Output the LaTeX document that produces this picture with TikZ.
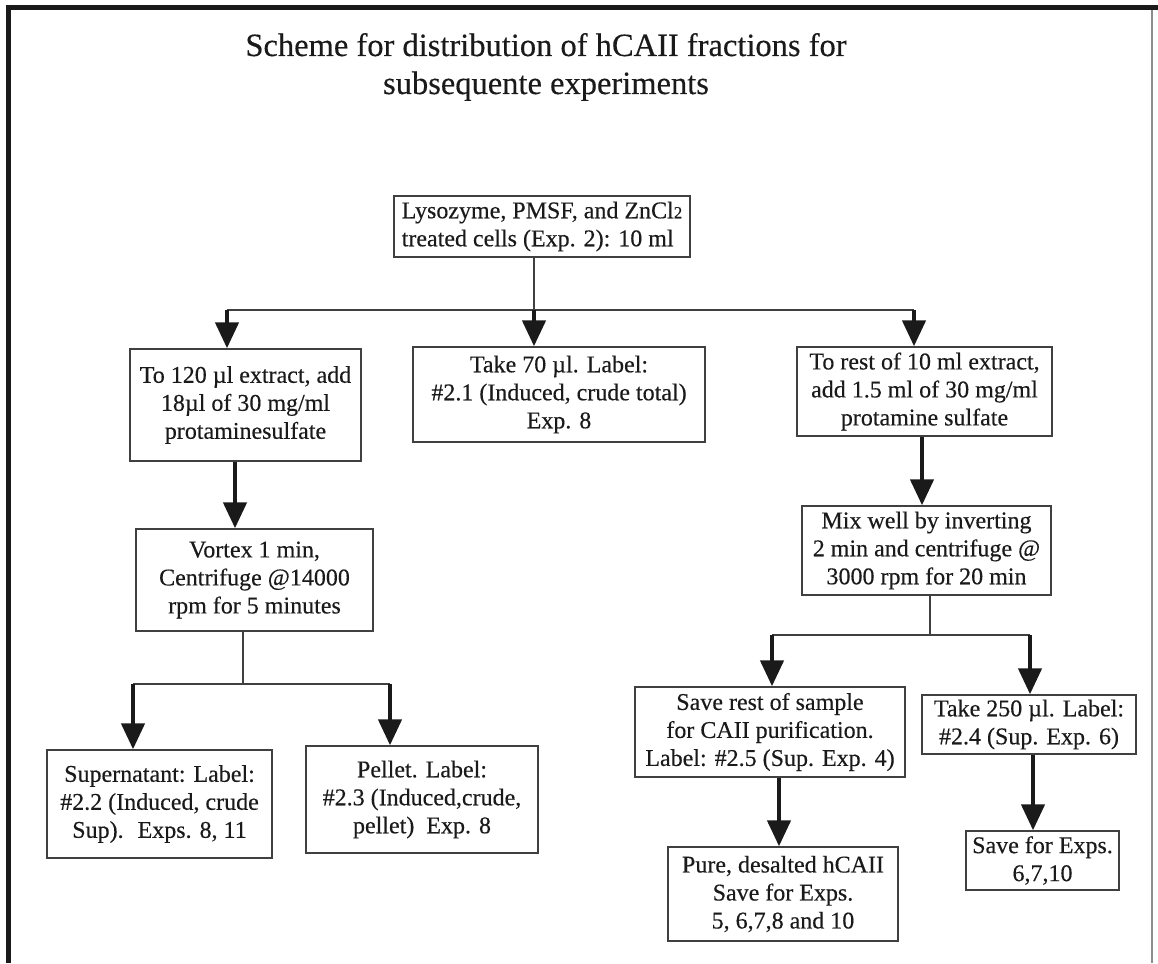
\documentclass[tikz,border=0pt]{standalone}
\usepackage{fontspec}
\setmainfont{Liberation Serif}
\newfontfamily\gfont{Liberation Serif}[FakeBold=0.35]
\usetikzlibrary{arrows.meta}
\definecolor{ink}{HTML}{1A1A1A}
\definecolor{boxc}{HTML}{404040}
\tikzset{
  box/.style={draw=boxc, line width=1.4pt, inner sep=0pt, align=center,
              font=\gfont\fontsize{24}{28}\selectfont, text=ink},
  thinline/.style={draw=boxc, line width=1.3pt},
  arr/.style={draw=ink, line width=4.5pt, -{Triangle[length=26pt,width=23pt]}},
  ttl/.style={font=\gfont\fontsize{32.5}{38}\selectfont, text=ink, anchor=base, inner sep=0pt},
}
\begin{document}
\begin{tikzpicture}[x=1pt,y=-1pt]
\useasboundingbox (0,0) rectangle (1158,963);
% frame
\draw[ink, line width=5pt] (6,8) -- (1158,8);
\draw[ink, line width=5pt] (8,6) -- (8,963);
\draw[black!45, line width=1.5pt] (1152,10) -- (1152,963);
% title
\node[ttl] (t1) at (546,56) {Scheme for distribution of hCAII fractions for};
\node[ttl] (t2) at (546,94) {subsequente experiments};
% boxes
\node[box, align=left, minimum width=296pt, minimum height=61pt] (top) at (542,226.5)
  {Lysozyme, PMSF, and ZnCl{\fontsize{17}{17}\selectfont 2}\\treated cells (Exp. 2): 10 ml};
\node[box, minimum width=231pt, minimum height=112pt] (lb) at (245.5,405)
  {To 120 µl extract, add\\18µl of 30 mg/ml\\protaminesulfate};
\node[box, minimum width=292pt, minimum height=95pt] (mb) at (559,394.5)
  {Take 70 µl. Label:\\\#2.1 (Induced, crude total)\\Exp. 8};
\node[box, minimum width=255pt, minimum height=89pt] (rb) at (924.5,391.5)
  {To rest of 10 ml extract,\\add 1.5 ml of 30 mg/ml\\protamine sulfate};
\node[box, minimum width=237pt, minimum height=102pt] (vx) at (254.5,580)
  {Vortex 1 min,\\Centrifuge @14000\\rpm for 5 minutes};
\node[box, minimum width=249pt, minimum height=89pt] (mx) at (926.5,550.5)
  {Mix well by inverting\\2 min and centrifuge @\\3000 rpm for 20 min};
\node[box, minimum width=225pt, minimum height=108pt] (sp) at (159.5,804)
  {Supernatant: Label:\\\#2.2 (Induced, crude\\Sup).~ Exps. 8, 11};
\node[box, minimum width=232pt, minimum height=107pt] (pl) at (422,799.5)
  {Pellet. Label:\\\#2.3 (Induced,crude,\\pellet)~ Exp. 8};
\node[box, minimum width=270pt, minimum height=90pt] (sr) at (770,732)
  {Save rest of sample\\for CAII purification.\\Label: \#2.5 (Sup. Exp. 4)};
\node[box, minimum width=214pt, minimum height=59pt] (tk) at (1029,724.5)
  {Take 250 µl. Label:\\\#2.4 (Sup. Exp. 6)};
\node[box, minimum width=230pt, minimum height=94pt] (pu) at (783,894)
  {Pure, desalted hCAII\\Save for Exps.\\5, 6,7,8 and 10};
\node[box, minimum width=153pt, minimum height=59pt] (se) at (1042.5,860.5)
  {Save for Exps.\\6,7,10};
% split 1
\coordinate (s1) at (534,310);
\coordinate (sL) at (227,310);
\coordinate (sR) at (914,310);
\draw[thinline] (top.south -| s1) -- (s1);
\draw[thinline] (sL) -- (sR);
\draw[arr] (sL) -- (sL |- lb.north);
\draw[arr] (s1) -- (s1 |- mb.north);
\draw[arr] (sR) -- (sR |- rb.north);
% left chain
\coordinate (a2) at (235,0);
\draw[arr] (lb.south -| a2) -- (vx.north -| a2);
\coordinate (v1) at (243,684);
\coordinate (vL) at (133,684);
\coordinate (vR) at (390,684);
\draw[thinline] (vx.south -| v1) -- (v1);
\draw[thinline] (vL) -- (vR);
\draw[arr] (vL) -- (vL |- sp.north);
\draw[arr] (vR) -- (vR |- pl.north);
% right chain
\coordinate (a4) at (922,0);
\draw[arr] (rb.south -| a4) -- (mx.north -| a4);
\coordinate (m1) at (930,635);
\coordinate (mL) at (772,635);
\coordinate (mR) at (1030,635);
\draw[thinline] (mx.south -| m1) -- (m1);
\draw[thinline] (mL) -- (mR);
\draw[arr] (mL) -- (mL |- sr.north);
\draw[arr] (mR) -- (mR |- tk.north);
\coordinate (a6) at (779,0);
\draw[arr] (sr.south -| a6) -- (pu.north -| a6);
\coordinate (a7) at (1033,0);
\draw[arr] (tk.south -| a7) -- (se.north -| a7);
\end{tikzpicture}
\end{document}
